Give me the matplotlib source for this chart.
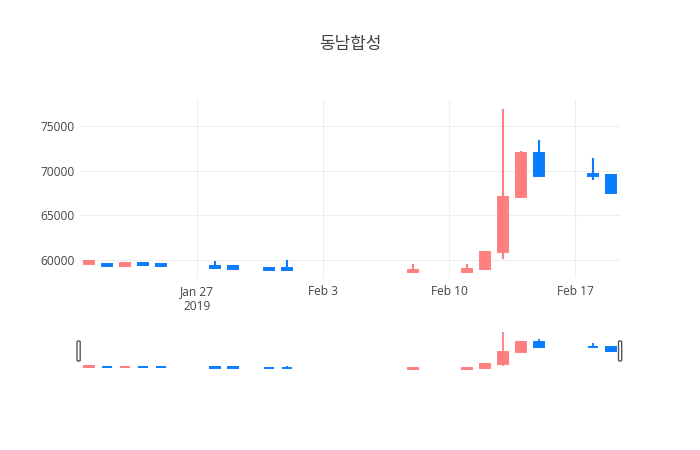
import matplotlib
matplotlib.use("Agg")
import matplotlib.pyplot as plt
import matplotlib.dates as mdates
from matplotlib.patches import FancyBboxPatch
import pandas as pd

plt.rcParams["font.family"] = ["Open Sans", "Noto Sans CJK KR", "DejaVu Sans"]

TITLE = "동남합성"
DATES = ["2019-01-21", "2019-01-22", "2019-01-23", "2019-01-24", "2019-01-25",
         "2019-01-28", "2019-01-29", "2019-01-31", "2019-02-01", "2019-02-08",
         "2019-02-11", "2019-02-12", "2019-02-13", "2019-02-14", "2019-02-15",
         "2019-02-18", "2019-02-19"]
OPEN = [59500, 59500, 59300, 59700, 59600, 59300, 59300, 59100, 59100, 58700,
        58700, 59000, 60900, 67000, 72000, 69600, 69500]
HIGH = [60000, 59500, 59700, 59800, 59600, 59900, 59400, 59100, 60000, 59600,
        59500, 61000, 76900, 72200, 73400, 71400, 69500]
LOW = [59500, 59200, 59200, 59400, 59300, 59100, 59000, 58900, 58900, 58700,
       58700, 59000, 60100, 67000, 69300, 69000, 67500]
CLOSE = [59900, 59300, 59700, 59400, 59300, 59100, 59000, 58900, 58900, 58900,
         59000, 60900, 67100, 72000, 69400, 69400, 67500]
X_TICKS = ["2019-01-27", "2019-02-03", "2019-02-10", "2019-02-17"]
X_TICK_LABELS = ["Jan 27\n2019", "Feb 3", "Feb 10", "Feb 17"]
Y_TICKS = [60000, 65000, 70000, 75000]

UP = "#ff7f7f"
DOWN = "#0a7cff"
TEXT = "#444444"
GRID = "#eeeeee"

x = mdates.date2num(pd.to_datetime(DATES))
colors = [UP if c >= o else DOWN for o, c in zip(OPEN, CLOSE)]
x_lo = mdates.date2num(pd.Timestamp("2019-01-20 12:00"))
x_hi = mdates.date2num(pd.Timestamp("2019-02-19 12:00"))
y_lo, y_hi = 57980, 77900

W, H = 700, 450
fig = plt.figure(figsize=(7, 4.5), dpi=100)


def px_axes(left, top, right, bottom):
    return fig.add_axes([left / W, 1 - bottom / H, (right - left) / W, (bottom - top) / H])


def draw_candles(ax, edge_lw, wick_lw):
    bottoms = [min(o, c) for o, c in zip(OPEN, CLOSE)]
    heights = [abs(c - o) for o, c in zip(OPEN, CLOSE)]
    ax.vlines(x, LOW, HIGH, colors=colors, linewidth=wick_lw, zorder=2)
    ax.bar(x, heights, bottom=bottoms, width=0.6, color=colors,
           edgecolor=colors, linewidth=edge_lw, zorder=3)
    ax.set_xlim(x_lo, x_hi)
    ax.set_ylim(y_lo, y_hi)
    for s in ax.spines.values():
        s.set_visible(False)


ax = px_axes(80, 100, 620, 278)
draw_candles(ax, 1.4, 1.5)
ax.set_yticks(Y_TICKS)
ax.set_yticklabels([str(v) for v in Y_TICKS])
ax.set_xticks(mdates.date2num(pd.to_datetime(X_TICKS)))
ax.set_xticklabels(X_TICK_LABELS, linespacing=1.25)
ax.tick_params(length=0, labelsize=8.6, labelcolor=TEXT)
ax.tick_params(axis="y", pad=4)
ax.tick_params(axis="x", pad=5)
ax.grid(True, color=GRID, linewidth=0.8, zorder=0)
ax.set_axisbelow(True)

# range slider
ax2 = px_axes(80, 330, 620, 370)
draw_candles(ax2, 1.4, 1.3)
ax2.set_xticks([])
ax2.set_yticks([])
for hx in (77, 618.5):
    fig.patches.append(FancyBboxPatch(
        (hx / W, 1 - 361 / H), 3.2 / W, 20 / H,
        boxstyle="round,pad=0,rounding_size=0.002",
        transform=fig.transFigure, facecolor="white",
        edgecolor="#555555", linewidth=1.0, zorder=5))

fig.text(0.5, 1 - 44 / H, TITLE, ha="center", va="center", fontsize=12.2,
         color=TEXT, family=["Noto Sans CJK KR", "DejaVu Sans"])

fig.savefig("out.png", dpi=100, facecolor="white")
